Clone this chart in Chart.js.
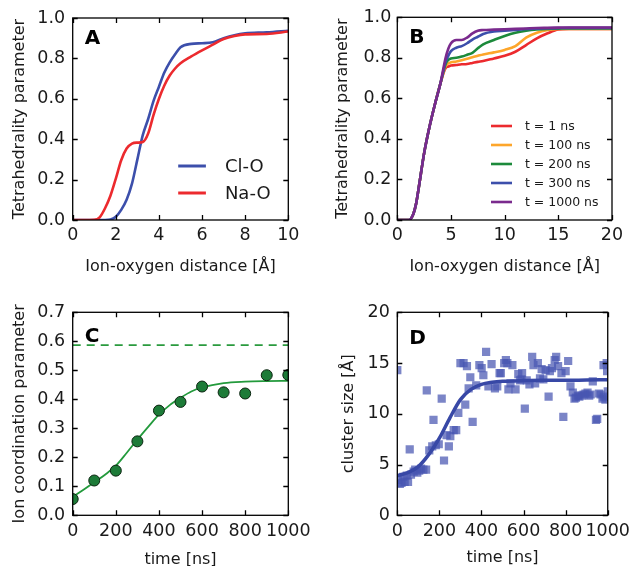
<!DOCTYPE html>
<html><head><meta charset="utf-8">
<script src="https://cdn.jsdelivr.net/npm/chart.js@4"></script>
<style>
html,body{margin:0;padding:0;background:#fff;overflow:hidden;width:636px;height:566px;position:relative}
canvas{position:absolute}
</style></head><body>
<canvas id="cA" width="318" height="283" style="left:0;top:0"></canvas>
<canvas id="cB" width="318" height="283" style="left:318px;top:0"></canvas>
<canvas id="cC" width="318" height="300" style="left:0;top:283px"></canvas>
<canvas id="cD" width="318" height="300" style="left:318px;top:283px"></canvas>
<script>
// ---------- Panel A data ----------
const distA = [0,0.5,1,1.25,1.5,1.75,2,2.25,2.5,2.75,3,3.25,3.5,3.75,4,4.25,4.5,4.75,5,5.5,6,6.5,7,7.5,8,9,10];
const clO   = [0,0,0,0,0,0.002,0.016,0.05,0.1,0.18,0.3,0.42,0.5,0.59,0.66,0.73,0.78,0.82,0.855,0.872,0.875,0.88,0.9,0.915,0.924,0.929,0.937];
const naO   = [0,0,0.001,0.013,0.058,0.12,0.205,0.296,0.354,0.378,0.383,0.386,0.428,0.52,0.6,0.666,0.715,0.75,0.776,0.81,0.84,0.868,0.896,0.911,0.919,0.921,0.933];
const labelsA = ['Cl-O','Na-O'];

// ---------- Panel B data ----------
const distB = [0,0.5,1,1.25,1.5,1.75,2,2.5,3,3.5,4,4.5,4.75,5,5.5,6,6.5,7,7.5,8,9,10,11,12,13,14,15,16,17,18,19,20];
const t1    = [0,0,0,0.005,0.03,0.08,0.16,0.33,0.46,0.57,0.67,0.75,0.757,0.762,0.765,0.768,0.77,0.775,0.78,0.784,0.797,0.81,0.83,0.863,0.896,0.921,0.94,0.943,0.943,0.943,0.943,0.943];
const t100  = [0,0,0,0.005,0.03,0.08,0.16,0.33,0.46,0.57,0.67,0.76,0.773,0.778,0.782,0.788,0.795,0.803,0.81,0.817,0.827,0.839,0.858,0.9,0.924,0.937,0.942,0.943,0.943,0.943,0.943,0.943];
const t200  = [0,0,0,0.005,0.03,0.08,0.16,0.33,0.46,0.57,0.67,0.77,0.79,0.797,0.8,0.806,0.815,0.825,0.847,0.867,0.888,0.908,0.924,0.934,0.94,0.943,0.944,0.945,0.945,0.945,0.945,0.945];
const t300  = [0,0,0,0.005,0.03,0.08,0.16,0.33,0.46,0.57,0.67,0.78,0.81,0.833,0.85,0.858,0.872,0.89,0.904,0.918,0.93,0.934,0.938,0.942,0.944,0.946,0.947,0.948,0.948,0.948,0.948,0.948];
const t1000 = [0,0,0,0.005,0.03,0.08,0.16,0.33,0.46,0.57,0.67,0.8,0.845,0.872,0.888,0.888,0.9,0.921,0.934,0.937,0.939,0.941,0.943,0.945,0.947,0.948,0.949,0.95,0.95,0.95,0.95,0.95];
const labelsB = ['t = 1 ns','t = 100 ns','t = 200 ns','t = 300 ns','t = 1000 ns'];

// ---------- Panel C data ----------
const timeC   = [0,100,200,300,400,500,600,700,800,900,1000];
const coordC  = [0.056,0.12,0.154,0.255,0.361,0.391,0.444,0.424,0.42,0.483,0.484];
const fitTimeC  = [0,50,100,150,200,250,300,350,400,450,500,550,600,700,800,900,1000];
const fitCoordC = [0.064,0.088,0.114,0.14,0.171,0.215,0.261,0.305,0.347,0.38,0.405,0.427,0.441,0.456,0.461,0.463,0.464];
const refTimeC  = [0,1000];
const refCoordC = [0.587,0.587];

// ---------- Panel D data ----------
const timeD = [0,5,12,20,28,35,45,51,59,65,78,85,95,104,113,124,137,140,152,166,172,183,197,211,222,234,245,252,268,280,290,300,315,323,331,339,347,358,375,390,401,409,422,433,448,464,475,486,492,508,516,523,528,538,547,562,575,583,590,593,606,615,628,641,647,655,668,678,686,694,705,719,725,735,748,755,764,780,789,800,812,823,834,842,849,858,865,875,885,894,904,912,919,929,944,950,958,966,975,981,989,980,995,997,1000];
const sizeD = [14.3,3.5,3.1,3.2,3.8,3.3,3.9,3.3,6.5,4.0,4.3,4.5,4.2,4.4,4.6,4.5,4.5,12.3,6.4,6.8,9.4,6.9,7.0,11.5,5.4,7.9,6.8,7.8,8.4,8.4,10.1,15.0,15.0,10.9,14.7,12.5,13.6,9.2,12.8,14.8,14.5,13.8,16.1,12.7,14.9,12.5,12.7,14.0,14.0,15.0,15.3,15.0,12.4,13.0,14.8,12.4,13.9,13.3,13.4,14.0,10.5,13.3,12.9,15.6,14.8,13.0,15.0,13.5,14.4,13.4,14.3,11.7,14.2,14.5,15.3,15.6,14.7,14.0,9.7,14.2,15.2,12.7,12.1,11.5,11.6,11.8,11.7,11.8,11.9,12.0,12.1,11.8,11.9,13.2,9.4,9.5,12.0,11.9,11.5,11.7,11.4,14.8,15.0,14.2,12.2];
const fitTimeD = [0,50,100,150,200,250,300,350,400,450,500,600,700,800,900,1000];
const fitSizeD = [3.9,4.2,4.8,6.0,7.6,9.6,11.4,12.4,12.9,13.1,13.2,13.27,13.3,13.3,13.33,13.35];

// ---------- tick labels / titles ----------
const xTitleAB = 'Ion-oxygen distance [Å]';
const yTitleAB = 'Tetrahedrality parameter';
const xTitleCD = 'time [ns]';
const yTitleC  = 'Ion coordination parameter';
const yTitleD  = 'cluster size [Å]';

const FONT = '"DejaVu Sans", sans-serif';
const TXT = '#1a1a1a';
const RED='#ec2a2e', ORANGE='#fda62b', GREEN='#1c8a3b', BLUE='#3c4fab', PURPLE='#7a2a8d';

const pts = (xs, ys) => xs.map((x, i) => ({x, y: ys[i]}));

const frame = {
  id: 'frame',
  afterDraw(chart, args, opts) {
    const {ctx, chartArea: a, scales: {x, y}} = chart;
    ctx.save();
    ctx.strokeStyle = '#000';
    ctx.lineWidth = 1.3;
    ctx.beginPath();
    x.ticks.forEach(t => {
      const p = Math.round(x.getPixelForValue(t.value)) + 0.5;
      ctx.moveTo(p, a.bottom); ctx.lineTo(p, a.bottom - 5);
      ctx.moveTo(p, a.top); ctx.lineTo(p, a.top + 5);
    });
    y.ticks.forEach(t => {
      const p = Math.round(y.getPixelForValue(t.value)) + 0.5;
      ctx.moveTo(a.left, p); ctx.lineTo(a.left + 5, p);
      ctx.moveTo(a.right, p); ctx.lineTo(a.right - 5, p);
    });
    ctx.stroke();
    ctx.strokeRect(a.left, a.top, a.right - a.left, a.bottom - a.top);
    ctx.fillStyle = '#000';
    ctx.font = 'bold 20px ' + FONT;
    ctx.textBaseline = 'alphabetic';
    ctx.textAlign = 'left';
    ctx.fillText(opts.letter, a.left + opts.lx, a.top + opts.ly);
    const lg = opts.legend;
    if (lg) {
      ctx.font = lg.font + 'px ' + FONT;
      ctx.textBaseline = 'middle';
      lg.items.forEach((di, k) => {
        const ds = chart.data.datasets[di];
        const yy = a.top + lg.y + k * lg.dy;
        ctx.strokeStyle = ds.borderColor;
        ctx.lineWidth = lg.lw;
        ctx.beginPath();
        ctx.moveTo(a.left + lg.x, yy); ctx.lineTo(a.left + lg.x + lg.len, yy);
        ctx.stroke();
        ctx.fillStyle = TXT;
        ctx.fillText(ds.label, a.left + lg.x + lg.len + lg.gap, yy + 1);
      });
    }
    ctx.restore();
  }
};

function axes(c) {
  return {
    x: {type: 'linear', min: c.xMin, max: c.xMax,
      ticks: {stepSize: c.xStep, font: {family: FONT, size: 17.5}, color: TXT, padding: c.xPad, maxRotation: 0, autoSkip: false, callback: v => String(v)},
      grid: {display: false, drawTicks: false}, border: {display: false},
      title: {display: true, text: c.xTitle, font: {family: FONT, size: 16}, color: TXT, padding: {top: 0, bottom: c.xTitlePad}},
      afterFit(s) { s.height = c.xH; }},
    y: {type: 'linear', min: c.yMin, max: c.yMax,
      ticks: {stepSize: c.yStep, font: {family: FONT, size: 17.5}, color: TXT, padding: c.yPad, autoSkip: false, callback: c.yFmt},
      grid: {display: false, drawTicks: false}, border: {display: false},
      title: {display: true, text: c.yTitle, font: {family: FONT, size: 16}, color: TXT, padding: {top: c.yTitlePad, bottom: 0}},
      afterFit(s) { s.width = c.yW; }}
  };
}
const fmt1 = v => Number(v).toFixed(1);
const fmt0 = v => String(Math.round(v));
const lineDs = (label, xs, ys, color, w, order) => ({label, data: pts(xs, ys), showLine: true, borderColor: color, backgroundColor: color, borderWidth: w, pointRadius: 0, cubicInterpolationMode: 'monotone', fill: false, order});
const base = (pad, pluginOpts, scales) => ({
  responsive: false, animation: false, events: [],
  layout: {padding: pad},
  plugins: {legend: {display: false}, tooltip: {enabled: false}, frame: pluginOpts},
  scales
});

// ---------- A ----------
new Chart(document.getElementById('cA'), {
  type: 'scatter',
  data: {datasets: [
    lineDs(labelsA[0], distA, clO, BLUE, 2.6, 2),
    lineDs(labelsA[1], distA, naO, RED, 2.6, 1)
  ]},
  options: base({left: 0, right: 29.7, top: 17.3, bottom: 0},
    {letter: 'A', lx: 12, ly: 26, legend: {items: [0, 1], x: 105.5, y: 148, dy: 27, len: 27.7, gap: 19, font: 18, lw: 3}},
    axes({xMin: 0, xMax: 10, xStep: 2, yMin: 0, yMax: 1, yStep: 0.2, yFmt: fmt1, xPad: 5, yPad: 7.5,
      xTitle: xTitleAB, yTitle: yTitleAB, xTitlePad: 6.4, yTitlePad: 10.4, xH: 63, yW: 72.7})),
  plugins: [frame]
});

// ---------- B ----------
new Chart(document.getElementById('cB'), {
  type: 'scatter',
  data: {datasets: [
    lineDs(labelsB[0], distB, t1, RED, 2.6, 5),
    lineDs(labelsB[1], distB, t100, ORANGE, 2.6, 4),
    lineDs(labelsB[2], distB, t200, GREEN, 2.6, 3),
    lineDs(labelsB[3], distB, t300, BLUE, 2.6, 2),
    lineDs(labelsB[4], distB, t1000, PURPLE, 2.6, 1)
  ]},
  options: base({left: 0, right: 24, top: 17.3, bottom: 0},
    {letter: 'B', lx: 12, ly: 26, legend: {items: [0, 1, 2, 3, 4], x: 93.7, y: 108.7, dy: 19, len: 21, gap: 13, font: 12.5, lw: 2.6}},
    axes({xMin: 0, xMax: 20, xStep: 5, yMin: 0, yMax: 1, yStep: 0.2, yFmt: fmt1, xPad: 5, yPad: 6,
      xTitle: xTitleAB, yTitle: yTitleAB, xTitlePad: 6.4, yTitlePad: 15.4, xH: 63, yW: 79.3})),
  plugins: [frame]
});

// ---------- C ----------
new Chart(document.getElementById('cC'), {
  type: 'scatter',
  data: {datasets: [
    {label: 'data', data: pts(timeC, coordC), pointRadius: 5.5, pointBackgroundColor: '#1d7b38', pointBorderColor: '#0b2410', pointBorderWidth: 1, showLine: false, order: 1},
    lineDs('fit', fitTimeC, fitCoordC, '#239a3c', 1.8, 2),
    Object.assign(lineDs('reference', refTimeC, refCoordC, '#2a9a3e', 1.8, 3), {borderDash: [8, 6], cubicInterpolationMode: 'default'})
  ]},
  options: base({left: 0, right: 29.7, top: 29.3, bottom: 0},
    {letter: 'C', lx: 12, ly: 30},
    axes({xMin: 0, xMax: 1000, xStep: 200, yMin: 0, yMax: 0.7, yStep: 0.1, yFmt: fmt1, xPad: 6, yPad: 7.5,
      xTitle: xTitleCD, yTitle: yTitleC, xTitlePad: 13.4, yTitlePad: 9.9, xH: 67.7, yW: 72.7})),
  plugins: [frame]
});

// ---------- D ----------
new Chart(document.getElementById('cD'), {
  type: 'scatter',
  data: {datasets: [
    {label: 'data', data: pts(timeD, sizeD), pointStyle: 'rect', pointRadius: 5.8, pointBackgroundColor: 'rgba(72,86,178,0.72)', pointBorderWidth: 0, pointBorderColor: 'rgba(0,0,0,0)', showLine: false, order: 2},
    lineDs('fit', fitTimeD, fitSizeD, '#3848a6', 3.5, 1)
  ]},
  options: base({left: 0, right: 24, top: 29.3, bottom: 0},
    {letter: 'D', lx: 12, ly: 32},
    axes({xMin: 0, xMax: 1000, xStep: 200, yMin: 0, yMax: 20, yStep: 5, yFmt: fmt0, xPad: 6, yPad: 7.5,
      xTitle: xTitleCD, yTitle: yTitleD, xTitlePad: 15.4, yTitlePad: 21.7, xH: 67.7, yW: 79.3})),
  plugins: [frame]
});
</script>
</body></html>
